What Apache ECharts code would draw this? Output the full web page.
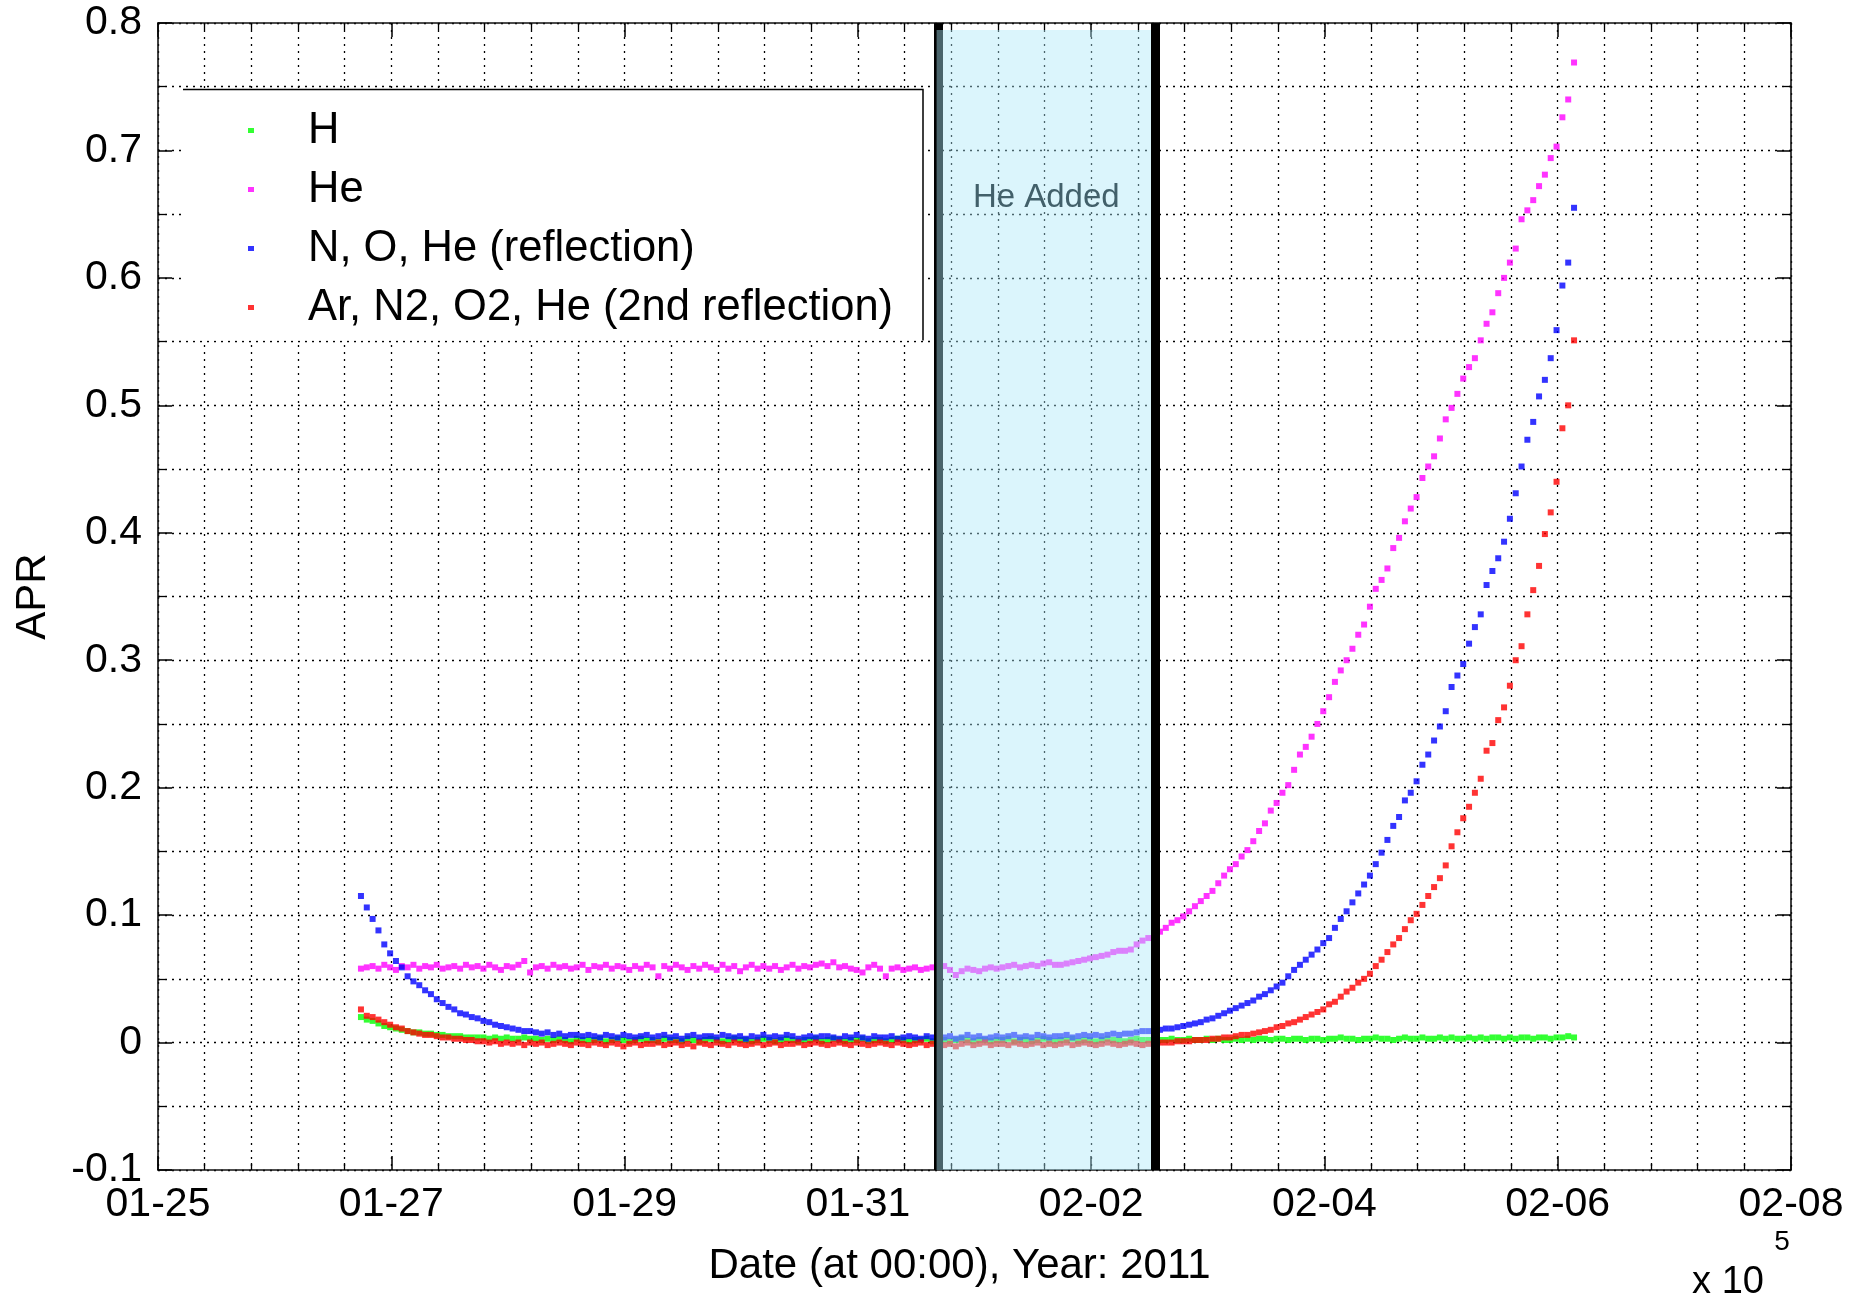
<!DOCTYPE html>
<html>
<head>
<meta charset="utf-8">
<script src="https://cdn.jsdelivr.net/npm/echarts/dist/echarts.min.js"></script>
<style>html,body{margin:0;padding:0;background:#fff}#c{width:1860px;height:1308px}</style>
</head>
<body>
<div id="c"></div>
<script>
// ---------- data ----------
const seriesNames = ['H', 'He', 'N, O, He (reflection)', 'Ar, N2, O2, He (2nd reflection)'];
const seriesColors = ['#00ff00', '#ff00ff', '#0000ff', '#ff0000'];
const xTickLabels = ['01-25', '01-27', '01-29', '01-31', '02-02', '02-04', '02-06', '02-08'];
const xAxisTitle = 'Date (at 00:00), Year: 2011';
const yAxisTitle = 'APR';
const bandLabel = 'He Added';
// times are in days after 2011-01-25 00:00; samples every 0.05 day from tStart
const tStart = 1.74;
const tStep = 0.05;
// He-added period (days after 01-25)
const heAddedStart = 6.675;
const heAddedEnd = 8.556;
const markLeft = 6.69;
const markRight = 8.547;

const hValues = [
  0.020,0.018,0.017,0.015,0.013,0.012,0.011,0.010,0.009,0.008,
  0.008,0.007,0.007,0.006,0.006,0.005,0.005,0.005,0.004,0.004,
  0.004,0.004,0.003,0.004,0.003,0.004,0.003,0.003,0.004,0.003,
  0.003,0.002,0.003,0.002,0.003,0.002,0.001,0.003,0.002,0.002,
  0.002,0.003,0.001,0.002,0.003,0.002,0.001,0.002,0.003,0.002,
  0.002,0.001,0.003,0.002,0.002,0.001,0.003,0.002,0.001,0.002,
  0.003,0.002,0.001,0.002,0.003,0.002,0.002,0.001,0.002,0.003,
  0.002,0.001,0.002,0.003,0.002,0.001,0.002,0.002,0.003,0.001,
  0.002,0.003,0.002,0.001,0.002,0.002,0.003,0.001,0.002,0.002,
  0.001,0.002,0.003,0.002,0.001,0.002,0.002,0.003,0.001,0.002,
  0.002,0.001,0.002,0.003,0.002,0.001,0.002,0.002,0.001,0.002,
  0.002,0.003,0.001,0.002,0.002,0.001,0.002,0.003,0.002,0.001,
  0.002,0.002,0.003,0.001,0.002,0.002,0.001,0.002,0.003,0.002,
  0.002,0.001,0.002,0.003,0.002,0.002,0.001,0.002,0.002,0.003,
  0.002,0.002,0.003,0.002,0.002,0.003,0.002,0.003,0.002,0.002,
  0.003,0.002,0.003,0.002,0.003,0.003,0.002,0.003,0.003,0.002,
  0.003,0.003,0.002,0.003,0.003,0.002,0.003,0.003,0.004,0.003,
  0.003,0.002,0.003,0.003,0.004,0.003,0.003,0.002,0.003,0.004,
  0.003,0.003,0.004,0.003,0.003,0.004,0.003,0.004,0.003,0.003,
  0.004,0.003,0.004,0.003,0.004,0.004,0.003,0.004,0.003,0.004,
  0.004,0.003,0.004,0.004,0.003,0.004,0.004,0.005,0.004
];

const heValues = [
  0.058,0.059,0.060,0.058,0.061,0.059,0.057,0.060,0.059,0.061,
  0.058,0.060,0.059,0.061,0.058,0.059,0.060,0.058,0.061,0.059,
  0.060,0.058,0.061,0.059,0.057,0.060,0.059,0.061,0.064,0.055,
  0.059,0.060,0.058,0.061,0.059,0.060,0.058,0.059,0.061,0.057,
  0.060,0.059,0.061,0.058,0.060,0.059,0.057,0.060,0.058,0.061,
  0.059,0.052,0.060,0.058,0.061,0.059,0.057,0.060,0.058,0.061,
  0.059,0.057,0.061,0.058,0.060,0.056,0.059,0.061,0.058,0.060,
  0.058,0.060,0.057,0.059,0.061,0.058,0.060,0.059,0.061,0.062,
  0.060,0.063,0.059,0.060,0.058,0.057,0.055,0.059,0.061,0.058,
  0.052,0.058,0.059,0.057,0.058,0.059,0.057,0.058,0.059,0.058,
  0.060,0.057,0.053,0.056,0.058,0.057,0.056,0.058,0.059,0.058,
  0.059,0.060,0.061,0.059,0.060,0.061,0.060,0.062,0.063,0.061,
  0.061,0.062,0.063,0.064,0.065,0.066,0.067,0.068,0.069,0.071,
  0.072,0.072,0.073,0.077,0.080,0.082,0.085,0.087,0.090,0.094,
  0.096,0.099,0.103,0.107,0.111,0.115,0.119,0.125,0.131,0.136,
  0.140,0.146,0.151,0.158,0.166,0.172,0.182,0.188,0.196,0.202,
  0.214,0.226,0.232,0.240,0.250,0.260,0.271,0.283,0.292,0.300,
  0.309,0.320,0.328,0.342,0.356,0.363,0.372,0.388,0.396,0.409,
  0.419,0.428,0.443,0.452,0.460,0.474,0.489,0.498,0.509,0.521,
  0.530,0.537,0.551,0.564,0.573,0.588,0.600,0.612,0.623,0.646,
  0.653,0.661,0.672,0.681,0.694,0.703,0.726,0.740,0.769
];

const noValues = [
  0.115,0.106,0.097,0.088,0.077,0.070,0.064,0.059,0.052,0.048,
  0.045,0.041,0.038,0.034,0.031,0.028,0.026,0.023,0.022,0.020,
  0.019,0.017,0.016,0.014,0.013,0.012,0.011,0.010,0.009,0.009,
  0.008,0.007,0.008,0.006,0.007,0.005,0.006,0.006,0.005,0.006,
  0.005,0.004,0.006,0.005,0.004,0.006,0.005,0.004,0.005,0.006,
  0.004,0.005,0.006,0.004,0.005,0.003,0.005,0.006,0.004,0.005,
  0.005,0.004,0.006,0.005,0.004,0.005,0.003,0.005,0.004,0.006,
  0.004,0.005,0.004,0.006,0.005,0.003,0.004,0.005,0.004,0.005,
  0.005,0.004,0.003,0.005,0.004,0.006,0.004,0.003,0.005,0.004,
  0.004,0.005,0.003,0.004,0.005,0.004,0.003,0.005,0.004,0.003,
  0.004,0.005,0.003,0.004,0.006,0.004,0.005,0.003,0.004,0.005,
  0.004,0.005,0.006,0.004,0.005,0.004,0.006,0.005,0.004,0.005,
  0.005,0.006,0.004,0.005,0.006,0.005,0.006,0.005,0.006,0.007,
  0.006,0.007,0.007,0.008,0.009,0.009,0.010,0.010,0.011,0.011,
  0.012,0.013,0.014,0.015,0.016,0.018,0.019,0.021,0.023,0.025,
  0.027,0.029,0.031,0.033,0.036,0.038,0.041,0.044,0.047,0.052,
  0.057,0.061,0.065,0.069,0.073,0.078,0.082,0.090,0.097,0.103,
  0.110,0.117,0.124,0.131,0.140,0.149,0.159,0.170,0.177,0.190,
  0.196,0.205,0.218,0.226,0.237,0.248,0.260,0.279,0.288,0.297,
  0.313,0.326,0.336,0.359,0.370,0.380,0.393,0.411,0.431,0.452,
  0.473,0.487,0.507,0.520,0.537,0.559,0.594,0.612,0.655
];

const arValues = [
  0.026,0.021,0.020,0.018,0.016,0.014,0.012,0.011,0.009,0.008,
  0.007,0.006,0.006,0.005,0.004,0.004,0.003,0.003,0.002,0.002,
  0.001,0.001,0.000,0.001,-0.001,0.000,-0.001,0.000,-0.002,0.000,
  -0.001,0.000,-0.002,-0.001,0.000,-0.001,-0.002,0.000,-0.001,-0.002,
  0.000,-0.001,-0.002,0.000,-0.001,-0.003,-0.001,0.000,-0.002,-0.001,
  -0.001,0.000,-0.002,-0.001,0.000,-0.002,-0.001,-0.003,0.000,-0.001,
  -0.002,0.000,-0.001,-0.002,0.000,-0.001,-0.002,-0.001,0.000,-0.002,
  -0.001,0.000,-0.002,-0.001,-0.001,0.000,-0.002,-0.001,0.000,-0.001,
  -0.002,-0.001,0.000,-0.001,-0.002,0.000,-0.001,-0.002,-0.001,0.000,
  -0.001,-0.002,0.000,-0.001,-0.002,-0.001,0.000,-0.002,-0.001,0.000,
  -0.002,-0.001,-0.003,-0.001,0.000,-0.002,-0.001,0.000,-0.002,-0.001,
  -0.001,-0.002,0.000,-0.001,-0.002,-0.001,0.000,-0.002,-0.001,-0.002,
  -0.001,0.000,-0.002,-0.001,0.000,-0.001,-0.002,-0.001,0.000,-0.001,
  -0.002,-0.001,0.000,-0.001,-0.002,-0.001,-0.001,0.000,0.000,0.000,
  0.001,0.001,0.001,0.002,0.002,0.002,0.003,0.003,0.004,0.004,
  0.005,0.006,0.006,0.007,0.008,0.009,0.010,0.012,0.013,0.015,
  0.016,0.018,0.020,0.022,0.024,0.026,0.030,0.032,0.036,0.040,
  0.043,0.047,0.050,0.054,0.060,0.065,0.071,0.077,0.082,0.089,
  0.096,0.101,0.108,0.115,0.122,0.129,0.139,0.154,0.165,0.176,
  0.185,0.196,0.207,0.229,0.235,0.253,0.263,0.280,0.300,0.311,
  0.336,0.355,0.374,0.399,0.416,0.440,0.482,0.500,0.551
];

const allValues = [hValues, heValues, noValues, arValues];

// ---------- chart ----------
const font = '"Liberation Sans", Arial, Helvetica, sans-serif';
const toPoints = vals => vals.map((v, i) => [+(tStart + i * tStep).toFixed(2), v]);

const gridLineStyle = { color: '#000', width: 1.3, type: [2, 5] };
const frameLine = { color: '#111', width: 1.6 };

const dataSeries = seriesNames.map((name, k) => ({
  name: name,
  type: 'scatter',
  data: toPoints(allValues[k]),
  symbol: 'rect',
  symbolSize: 6,
  itemStyle: { color: seriesColors[k] },
  z: 2,
  silent: true
}));

const helperSeries = [
  {
    type: 'line', data: [], z: 3, silent: true,
    markLine: {
      z: 3, silent: true, symbol: ['none', 'none'], label: { show: false },
      lineStyle: { color: '#000', width: 9, type: 'solid' },
      emphasis: { disabled: true },
      data: [{ xAxis: markLeft }]
    }
  },
  {
    type: 'line', data: [], z: 6, silent: true,
    markArea: {
      z: 6, silent: true,
      itemStyle: { color: 'rgba(171,232,248,0.43)', borderWidth: 0 },
      label: {
        show: true, position: 'insideTop', distance: 151,
        fontSize: 33, color: '#42606a', fontFamily: font
      },
      emphasis: { disabled: true },
      data: [[{ name: bandLabel, xAxis: heAddedStart, yAxis: -0.1 }, { xAxis: heAddedEnd, yAxis: 0.7945 }]]
    }
  },
  {
    type: 'line', data: [], z: 7, silent: true,
    markLine: {
      z: 7, silent: true, symbol: ['none', 'none'], label: { show: false },
      lineStyle: { color: '#000', width: 9, type: 'solid' },
      emphasis: { disabled: true },
      data: [{ xAxis: markRight }]
    }
  }
];

const mirrorTick = { show: true, inside: true, length: 14, lineStyle: { color: '#000', width: 1.5 } };

const option = {
  animation: false,
  backgroundColor: '#fff',
  grid: { left: 158, right: 69, top: 23, bottom: 138 },
  xAxis: [
    {
      type: 'value', min: 0, max: 14, interval: 2, position: 'bottom',
      axisLine: { show: true, onZero: false, lineStyle: frameLine },
      axisTick: mirrorTick,
      minorTick: { show: true, splitNumber: 5, length: 7, lineStyle: { color: '#000', width: 1.3 } },
      axisLabel: { formatter: v => xTickLabels[Math.round(v / 2)], fontSize: 41, color: '#000', margin: 14, fontFamily: font },
      splitLine: { show: true, lineStyle: gridLineStyle },
      minorSplitLine: { show: true, lineStyle: gridLineStyle },
      name: xAxisTitle, nameLocation: 'middle', nameGap: 75,
      nameTextStyle: { fontSize: 42, color: '#000', fontFamily: font, padding: [0, 30, 0, 0] }
    },
    {
      type: 'value', min: 0, max: 14, interval: 2, position: 'top',
      axisLine: { show: true, onZero: false, lineStyle: frameLine },
      axisTick: mirrorTick,
      minorTick: { show: true, splitNumber: 5, length: 7, lineStyle: { color: '#000', width: 1.3 } },
      axisLabel: { show: false }, splitLine: { show: false }
    }
  ],
  yAxis: [
    {
      type: 'value', min: -0.1, max: 0.8, interval: 0.1, position: 'left',
      axisLine: { show: true, onZero: false, lineStyle: frameLine },
      axisTick: mirrorTick,
      minorTick: { show: true, splitNumber: 2, length: 7, lineStyle: { color: '#000', width: 1.3 } },
      axisLabel: { fontSize: 41, color: '#000', margin: 16, fontFamily: font },
      splitLine: { show: true, lineStyle: gridLineStyle },
      minorSplitLine: { show: true, lineStyle: gridLineStyle },
      name: yAxisTitle, nameLocation: 'middle', nameGap: 104, nameRotate: 90,
      nameTextStyle: { fontSize: 42, color: '#000', fontFamily: font }
    },
    {
      type: 'value', min: -0.1, max: 0.8, interval: 0.1, position: 'right',
      axisLine: { show: true, onZero: false, lineStyle: frameLine },
      axisTick: mirrorTick,
      minorTick: { show: true, splitNumber: 2, length: 7, lineStyle: { color: '#000', width: 1.3 } },
      axisLabel: { show: false }, splitLine: { show: false }
    }
  ],
  legend: {
    data: seriesNames, orient: 'vertical', left: 248, top: 108.5, padding: 0,
    itemGap: 15, itemWidth: 6, itemHeight: 5, icon: 'rect', selectedMode: false,
    formatter: n => '{g| }{t|' + n + '}',
    textStyle: {
      rich: {
        g: { width: 49 },
        t: { fontSize: 43.5, fontFamily: font, color: '#000', lineHeight: 50 }
      }
    }
  },
  graphic: [
    { type: 'rect', z: 3, silent: true, shape: { x: 183, y: 89.5, width: 740, height: 251 }, style: { fill: '#fff' } },
    { type: 'polyline', z: 3, silent: true, shape: { points: [[183, 89.5], [923, 89.5], [923, 340.5]] }, style: { stroke: '#000', lineWidth: 1.5, fill: null } },
    { type: 'text', z: 10, x: 1728, y: 1283, style: { text: 'x 10', font: '38px ' + font, fill: '#000', textAlign: 'center', textVerticalAlign: 'middle' } },
    { type: 'text', z: 10, x: 1782, y: 1242, style: { text: '5', font: '28px ' + font, fill: '#000', textAlign: 'center', textVerticalAlign: 'middle' } }
  ],
  series: dataSeries.concat(helperSeries)
};

const chart = echarts.init(document.getElementById('c'), null, { renderer: 'canvas' });
chart.setOption(option);
</script>
</body>
</html>
